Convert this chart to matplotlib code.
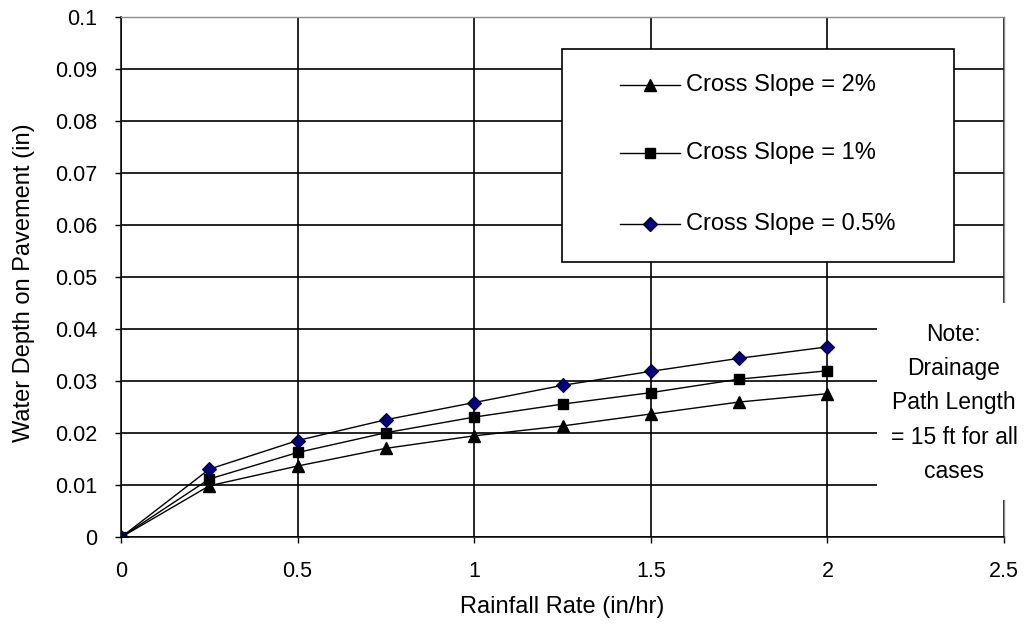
import matplotlib.pyplot as plt
from matplotlib.patches import Rectangle
from matplotlib.ticker import FormatStrFormatter, MultipleLocator

plt.rcParams["font.family"] = ["Liberation Sans", "DejaVu Sans"]

# rainfall rate (in/hr) and water depth (in) for each cross slope
rain = [0, 0.25, 0.5, 0.75, 1.0, 1.25, 1.5, 1.75, 2.0]
depth_2pct = [0, 0.0099, 0.0137, 0.0171, 0.0195, 0.0214, 0.0237, 0.0260, 0.0276]
depth_1pct = [0, 0.0112, 0.0163, 0.0201, 0.0231, 0.0256, 0.0278, 0.0304, 0.0320]
depth_05pct = [0, 0.0131, 0.0186, 0.0226, 0.0259, 0.0292, 0.0319, 0.0344, 0.0366]
labels = ["Cross Slope = 2%", "Cross Slope = 1%", "Cross Slope = 0.5%"]

fig = plt.figure(figsize=(10.24, 6.32), dpi=100)
ax = fig.add_axes([121 / 1024, 1 - 537.3 / 632, 883 / 1024, 520.3 / 632])

l1, = ax.plot(rain, depth_2pct, color="black", lw=1, marker="^", ms=8,
              mfc="black", mec="black")
l2, = ax.plot(rain, depth_1pct, color="black", lw=1, marker="s", ms=7.5,
              mfc="black", mec="black")
l3, = ax.plot(rain, depth_05pct, color="black", lw=1, marker="D", ms=7,
              mfc="#000080", mec="#000030", mew=0.8)

ax.set_xlim(0, 2.5)
ax.set_ylim(0, 0.1)
ax.xaxis.set_major_locator(MultipleLocator(0.5))
ax.yaxis.set_major_locator(MultipleLocator(0.01))
ax.xaxis.set_major_formatter(FormatStrFormatter("%g"))
ax.yaxis.set_major_formatter(FormatStrFormatter("%g"))

ax.set_axisbelow(True)
ax.grid(True, color="black", lw=1.2)
ax.tick_params(direction="out", length=4, width=1, color="black",
               labelsize=15.5, pad=13)

for side in ("left", "bottom"):
    ax.spines[side].set_color("black")
    ax.spines[side].set_linewidth(1.1)
for side in ("top", "right"):
    ax.spines[side].set_color("#8c8c8c")
    ax.spines[side].set_linewidth(1.0)

ax.set_xlabel("Rainfall Rate (in/hr)", fontsize=17, va="center")
ax.xaxis.set_label_coords(0.5, -(607 - 537.3) / 520.3)
ax.set_ylabel("Water Depth on Pavement (in)", fontsize=17, va="center")
ax.yaxis.set_label_coords(-(121 - 24) / 883, 0.49)

# legend box
fig.patches.append(Rectangle((562 / 1024, 1 - 262 / 632), 392 / 1024, 213 / 632,
                             transform=fig.transFigure, facecolor="white",
                             edgecolor="black", lw=1.2, zorder=1))
leg_y = [85, 153, 224]
for line, lab, y in zip([l1, l2, l3], labels, leg_y):
    fy = 1 - y / 632
    fig.lines.append(plt.Line2D([620 / 1024, 680 / 1024], [fy, fy],
                                transform=fig.transFigure, color="black", lw=1,
                                zorder=2))
    fig.lines.append(plt.Line2D([650 / 1024], [fy], transform=fig.transFigure,
                                marker=line.get_marker(), ms=line.get_markersize(),
                                mfc=line.get_markerfacecolor(),
                                mec=line.get_markeredgecolor(), ls="none",
                                zorder=3))
    fig.text(686 / 1024, fy, lab, fontsize=17, va="center", ha="left", zorder=3)

# note panel over the right edge of the plot
fig.patches.append(Rectangle((877 / 1024, 1 - 500 / 632), 147 / 1024, 197 / 632,
                             transform=fig.transFigure, facecolor="white",
                             edgecolor="none", zorder=1))
fig.text(954 / 1024, 1 - 403 / 632,
         "Note:\nDrainage\nPath Length\n= 15 ft for all\ncases",
         fontsize=16.5, ha="center", va="center", linespacing=1.63, zorder=3)

fig.savefig("out.png", dpi=100)
